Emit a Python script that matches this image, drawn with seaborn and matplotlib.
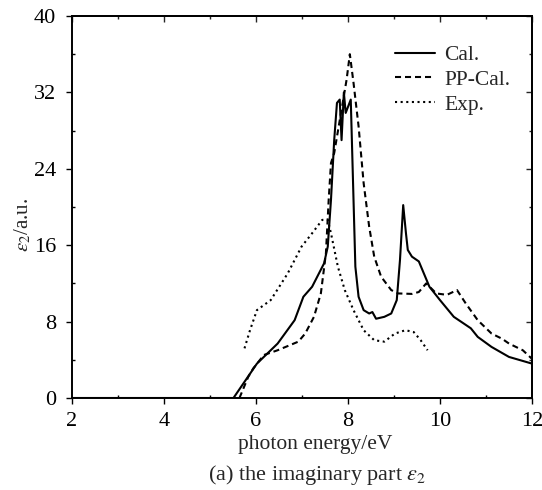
import numpy as np
import pandas as pd
import matplotlib
matplotlib.use("Agg")
import matplotlib.pyplot as plt
import seaborn as sns
from matplotlib.ticker import MultipleLocator

cal_x = [2.0, 5.51, 6.02, 6.47, 6.84, 7.03, 7.22, 7.48, 7.56, 7.63, 7.70, 7.76, 7.82, 7.86, 7.91, 7.95, 8.06,
         8.10, 8.16, 8.23, 8.34, 8.46, 8.53, 8.61, 8.79, 8.94, 9.06, 9.13, 9.20, 9.26, 9.30, 9.39, 9.54,
         9.77, 10.0, 10.3, 10.67, 10.82, 11.12, 11.5, 12.0]
cal_y = [0.0, 0.0, 3.6, 5.7, 8.15, 10.6, 11.65, 14.1, 15.85, 20.75, 27.0, 30.9, 31.25, 27.0, 32.0, 29.85, 31.25,
         24.25, 13.75, 10.6, 9.2, 8.85, 9.0, 8.3, 8.5, 8.85, 10.25, 14.45, 20.2, 17.25, 15.5, 14.8, 14.3,
         11.65, 10.25, 8.5, 7.3, 6.4, 5.35, 4.3, 3.6]

pp_x = [5.64, 5.83, 5.94, 6.17, 6.47, 6.92, 7.07, 7.26, 7.41, 7.52, 7.58, 7.63, 7.70, 7.86, 7.97, 8.04,
        8.12, 8.23, 8.34, 8.46, 8.57, 8.72, 8.94, 9.09, 9.39, 9.54, 9.70, 9.92, 10.15, 10.37, 10.56,
        10.82, 11.12, 11.35, 11.5, 11.8, 12.0]
pp_y = [0.0, 2.2, 3.1, 4.5, 5.0, 5.9, 6.75, 8.5, 10.95, 15.15, 20.75, 24.6, 25.65, 30.2, 33.35, 36.0,
        33.0, 28.45, 22.5, 17.95, 14.8, 12.7, 11.3, 10.95, 10.9, 11.1, 12.0, 10.95, 10.8, 11.3, 9.9,
        8.15, 6.75, 6.2, 5.7, 5.0, 4.1]

exp_x = [5.75, 5.87, 6.02, 6.32, 6.69, 6.99, 7.22, 7.44, 7.56, 7.63, 7.78, 7.93, 8.12, 8.34, 8.57,
         8.79, 9.02, 9.25, 9.43, 9.58, 9.73]
exp_y = [5.2, 7.1, 9.2, 10.25, 13.05, 15.85, 17.25, 18.65, 18.65, 17.25, 13.75, 11.3, 9.2, 7.1, 6.05,
         5.9, 6.75, 7.1, 6.9, 6.05, 5.0]

series_names = ["Cal.", "PP-Cal.", "Exp."]
x_ticks = [2, 4, 6, 8, 10, 12]
y_ticks = [0, 8, 16, 24, 32, 40]

df = pd.concat([
    pd.DataFrame({"x": cal_x, "y": cal_y, "s": series_names[0]}),
    pd.DataFrame({"x": pp_x, "y": pp_y, "s": series_names[1]}),
    pd.DataFrame({"x": exp_x, "y": exp_y, "s": series_names[2]}),
], ignore_index=True)

sns.set_style("ticks")
plt.rcParams["font.family"] = ["Liberation Serif", "DejaVu Serif"]
plt.rcParams["mathtext.fontset"] = "stix"

W, H = 542, 490
L, R, T, B = 72, 532, 16, 398
fig = plt.figure(figsize=(W/100, H/100), dpi=100)
ax = fig.add_axes([L/W, 1-B/H, (R-L)/W, (B-T)/H])

sns.lineplot(data=df, x="x", y="y", hue="s", style="s", palette=["black"]*3,
             dashes={"Cal.": "", "PP-Cal.": (2.9, 1.9), "Exp.": (1.0, 1.7)},
             sort=False, estimator=None, linewidth=1.5, ax=ax)

ax.set_xlim(2, 12)
ax.set_ylim(0, 40)
ax.set_xticks(x_ticks)
ax.set_yticks(y_ticks)
ax.xaxis.set_minor_locator(MultipleLocator(1))
ax.yaxis.set_minor_locator(MultipleLocator(4))
ax.tick_params(which="both", labelsize=16, width=1, colors="black")
ax.tick_params(which="major", direction="out", length=4, pad=7.5)
ax.tick_params(axis="x", which="major", pad=6)
ax.tick_params(which="minor", direction="in", length=2.5)
for sp in ax.spines.values():
    sp.set_linewidth(1.4)
    sp.set_color("black")

# mirrored inward ticks on right and top
axr = ax.secondary_yaxis("right")
axr.set_yticks(y_ticks)
axr.yaxis.set_minor_locator(MultipleLocator(4))
axr.tick_params(which="both", direction="in", labelright=False, width=1)
axr.tick_params(which="major", length=4)
axr.tick_params(which="minor", length=2.5)
axr.spines["right"].set_linewidth(1.4)
axt = ax.secondary_xaxis("top")
axt.set_xticks(x_ticks)
axt.xaxis.set_minor_locator(MultipleLocator(1))
axt.tick_params(which="both", direction="in", labeltop=False, width=1)
axt.tick_params(which="major", length=4)
axt.tick_params(which="minor", length=2.5)
axt.spines["top"].set_linewidth(1.4)

ax.set_xlabel("photon energy/eV", fontsize=15.5)
ax.xaxis.label.set_va("baseline")
ax.xaxis.set_label_coords((315-L)/(R-L), -(449-B)/(B-T))
ax.set_ylabel(r"$\varepsilon_2$/a.u.", fontsize=15)
ax.yaxis.set_label_coords((33-L)/(R-L), (B-225)/(B-T))

leg = ax.legend(frameon=False, loc="upper left",
                bbox_to_anchor=((395-L)/(R-L), (B-45)/(B-T)), borderpad=0, borderaxespad=0,
                fontsize=15.5, handlelength=1.86, handletextpad=0.42, labelspacing=0.22)

fig.text(317/W, 1-480/H, r"(a) the imaginary part $\varepsilon_2$", ha="center", va="baseline", fontsize=16)

fig.savefig("out.png", dpi=100)
